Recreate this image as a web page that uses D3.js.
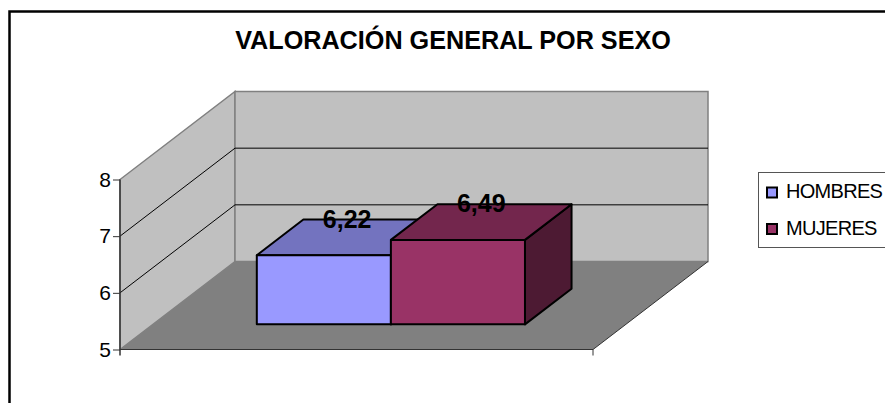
<!DOCTYPE html>
<html>
<head>
<meta charset="utf-8">
<script src="https://cdnjs.cloudflare.com/ajax/libs/d3/7.8.5/d3.min.js"></script>
<style>
  html, body { margin: 0; padding: 0; background: #fff; overflow: hidden; }
  svg { display: block; font-family: "Liberation Sans", Arial, sans-serif; }
</style>
</head>
<body>
<script>
const title = "VALORACIÓN GENERAL POR SEXO";
const series = ["HOMBRES", "MUJERES"];
const values = [6.22, 6.49];
const yTicks = [5, 6, 7, 8];
const frontColors = ["#9999ff", "#993366"];
const topColors = ["#7373bf", "#73264d"];
const sideColors = ["#4d4d80", "#4d1a33"];

const width = 885, height = 403;
const svg = d3.select("body").append("svg").attr("width", width).attr("height", height);

// chart frame, runs off the right and bottom of the crop
svg.append("rect")
  .attr("x", 9.5).attr("y", 11.5)
  .attr("width", width + 20).attr("height", height + 20)
  .attr("fill", "#fff").attr("stroke", "#000").attr("stroke-width", 2.5);

svg.append("text")
  .attr("x", 453).attr("y", 49)
  .attr("text-anchor", "middle")
  .attr("font-size", 25.2).attr("font-weight", "bold")
  .text(title);

// fake 3d: z goes 0 (front) to 1 (back wall)
const y = d3.scaleLinear().domain([5, 8]).range([349.5, 179.5]);
const x = d3.scaleBand().domain(series).range([120, 596]).paddingInner(0).paddingOuter(0.775);
const zx = d3.scaleLinear().domain([0, 1]).range([0, 115]);
const zy = d3.scaleLinear().domain([0, 1]).range([0, -88]);
const xMin = 120, xMax = 593;

const pt = (px, v, z) => [px + zx(z), y(v) + zy(z)];
const line = d3.line();
const poly = (pts) => line(pts) + "Z";

const g = svg.append("g");

// walls and floor
g.append("path")
  .attr("d", poly([pt(xMin, 5, 0), pt(xMin, 8, 0), pt(xMin, 8, 1), pt(xMin, 5, 1)]))
  .attr("fill", "#c0c0c0").attr("stroke", "#808080").attr("stroke-width", 1.5);
g.append("path")
  .attr("d", poly([pt(xMin, 5, 1), pt(xMin, 8, 1), pt(xMax, 8, 1), pt(xMax, 5, 1)]))
  .attr("fill", "#c0c0c0").attr("stroke", "#808080").attr("stroke-width", 1.5);
g.append("path")
  .attr("d", poly([pt(xMin, 5, 0), pt(xMin, 5, 1), pt(xMax, 5, 1), pt(xMax, 5, 0)]))
  .attr("fill", "#808080");

// gridlines on both walls
g.selectAll(".grid")
  .data(yTicks.slice(1, 3))
  .join("path")
  .attr("class", "grid")
  .attr("d", (d) => line([pt(xMin, d, 0), pt(xMin, d, 1), pt(xMax, d, 1)]))
  .attr("fill", "none").attr("stroke", "#000").attr("stroke-width", 1);

// front edge of the floor and right edge
g.append("path")
  .attr("d", line([pt(xMin, 5, 0), pt(xMax, 5, 0), pt(xMax, 5, 1)]))
  .attr("fill", "none").attr("stroke", "#333").attr("stroke-width", 1);

// axes
const yAxis = d3.axisLeft(y).tickValues(yTicks).tickSize(7).tickPadding(2).tickFormat(d3.format("d"));
const axisG = svg.append("g").attr("transform", `translate(${xMin},0)`).call(yAxis);
axisG.select(".domain").attr("stroke", "#333").attr("stroke-width", 1.5).attr("d", `M0,${y(8)}V${y(5) + 6}`);
axisG.selectAll("line").attr("stroke", "#333");
axisG.selectAll("text").attr("font-size", 21).attr("font-family", "Liberation Sans").attr("fill", "#000");
svg.append("path")
  .attr("d", `M${xMax},${y(5)}v6`)
  .attr("stroke", "#333").attr("fill", "none");

// bars
const z0 = 0.286, z1 = 0.691;
const bars = svg.selectAll(".bar")
  .data(series.map((s, i) => ({ s, i, v: values[i] })))
  .join("g").attr("class", "bar");
const barStyle = (sel) => sel.attr("stroke", "#000").attr("stroke-width", 2).attr("stroke-linejoin", "round");

bars.append("path").call(barStyle)
  .attr("d", (d) => {
    const a = x(d.s), b = a + x.bandwidth();
    return poly([pt(b, 5, z0), pt(b, d.v, z0), pt(b, d.v, z1), pt(b, 5, z1)]);
  })
  .attr("fill", (d) => sideColors[d.i]);
bars.append("path").call(barStyle)
  .attr("d", (d) => {
    const a = x(d.s), b = a + x.bandwidth();
    return poly([pt(a, d.v, z0), pt(a, d.v, z1), pt(b, d.v, z1), pt(b, d.v, z0)]);
  })
  .attr("fill", (d) => topColors[d.i]);
bars.append("path").call(barStyle)
  .attr("d", (d) => {
    const a = x(d.s), b = a + x.bandwidth();
    return poly([pt(a, 5, z0), pt(a, d.v, z0), pt(b, d.v, z0), pt(b, 5, z0)]);
  })
  .attr("fill", (d) => frontColors[d.i]);

// data labels sit on the back edge of each bar top
svg.selectAll(".val")
  .data(series.map((s, i) => ({ s, v: values[i] })))
  .join("text")
  .attr("class", "val")
  .attr("x", (d) => pt(x(d.s) + x.bandwidth() / 2, d.v, (z0 + z1) / 2)[0])
  .attr("y", (d) => pt(0, d.v, z1)[1] + 8)
  .attr("text-anchor", "middle")
  .attr("font-size", 25).attr("font-weight", "bold")
  .text((d) => String(d.v).replace(".", ","));

// legend
svg.append("rect")
  .attr("x", 758.5).attr("y", 172.5)
  .attr("width", 160).attr("height", 75)
  .attr("fill", "#fff").attr("stroke", "#555").attr("stroke-width", 1);
const leg = svg.selectAll(".leg")
  .data(series)
  .join("g")
  .attr("class", "leg")
  .attr("transform", (d, i) => `translate(0,${192.5 + i * 36.5})`);
leg.append("rect")
  .attr("x", 767).attr("y", -5)
  .attr("width", 10).attr("height", 10)
  .attr("fill", (d, i) => frontColors[i])
  .attr("stroke", "#000").attr("stroke-width", 2);
leg.append("text")
  .attr("x", 786).attr("y", 5.5)
  .attr("font-size", 20).attr("letter-spacing", -0.7)
  .text((d) => d);
</script>
</body>
</html>
